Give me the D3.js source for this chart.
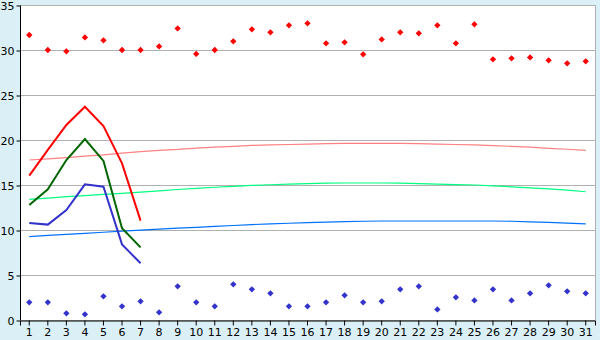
<!DOCTYPE html>
<head>
  <meta charset="utf-8">
  <title>temperature chart</title>
  <script src="https://cdn.jsdelivr.net/npm/d3@7"></script>
  <style>
    body{ margin:0; background:#daf0f6; }
    svg{ display:block; font-family:"DejaVu Sans", Verdana, sans-serif; }
  </style>
</head>
<body>
<div id="chart"></div>
<script>
const days = d3.range(1, 32);
const yTicks = [0, 5, 10, 15, 20, 25, 30, 35];

// daily max / min markers
const maxDots = [31.67, 30.0, 29.85, 31.4, 31.07, 30.0, 30.0, 30.4, 32.4, 29.56,
  30.0, 30.96, 32.3, 31.96, 32.74, 32.96, 30.74, 30.85, 29.52, 31.18, 31.96,
  31.85, 32.74, 30.74, 32.85, 28.96, 29.07, 29.18, 28.85, 28.52, 28.74];
const minDots = [1.96, 1.96, 0.74, 0.63, 2.63, 1.52, 2.07, 0.85, 3.74, 1.96,
  1.52, 3.96, 3.41, 2.96, 1.52, 1.52, 1.96, 2.74, 1.96, 2.07, 3.41,
  3.74, 1.18, 2.52, 2.18, 3.41, 2.18, 2.96, 3.85, 3.19, 2.96];

// observed (first 7 days)
const obsMax = [16.04, 18.9, 21.67, 23.7, 21.56, 17.4, 11.04];
const obsAvg = [12.78, 14.52, 17.78, 20.1, 17.67, 10.19, 8.07];
const obsMin = [10.78, 10.6, 12.22, 15.07, 14.81, 8.4, 6.3];

// normals
const normMax = [17.78, 17.9, 18.05, 18.2, 18.35, 18.55, 18.7, 18.85, 18.95, 19.1,
  19.2, 19.3, 19.4, 19.45, 19.5, 19.55, 19.6, 19.63, 19.63, 19.63, 19.63,
  19.6, 19.55, 19.5, 19.45, 19.38, 19.3, 19.2, 19.08, 18.97, 18.85];
const normAvg = [13.41, 13.55, 13.7, 13.83, 13.95, 14.07, 14.2, 14.35, 14.5, 14.62,
  14.75, 14.85, 14.95, 15.03, 15.1, 15.15, 15.2, 15.22, 15.22, 15.22, 15.2,
  15.15, 15.1, 15.05, 15.0, 14.9, 14.8, 14.68, 14.56, 14.42, 14.25];
const normMin = [9.26, 9.4, 9.52, 9.63, 9.75, 9.87, 9.98, 10.1, 10.2, 10.3,
  10.4, 10.5, 10.6, 10.68, 10.75, 10.82, 10.88, 10.93, 10.97, 11.0, 11.0,
  11.0, 11.0, 11.0, 11.0, 11.0, 10.97, 10.9, 10.85, 10.77, 10.67];

const width = 600, height = 340;
const margin = {top: 5, right: 5, bottom: 20, left: 20};

const svg = d3.select('#chart').append('svg')
  .attr('width', width).attr('height', height);

const x = d3.scaleBand()
  .domain(days)
  .range([margin.left, width - margin.right]);
const xc = d => x(d) + x.bandwidth() / 2;

const y = d3.scaleLinear()
  .domain([0, 35])
  .range([height - margin.bottom, margin.top]);

// plot area
svg.append('rect')
  .attr('x', margin.left).attr('y', margin.top)
  .attr('width', width - margin.right - margin.left)
  .attr('height', height - margin.bottom - margin.top)
  .attr('fill', '#fff')
  .attr('stroke', '#b0b0b0')
  .attr('shape-rendering', 'crispEdges');

// gridlines
svg.append('g').selectAll('line')
  .data(yTicks.slice(1))
  .enter().append('line')
  .attr('x1', margin.left).attr('x2', width - margin.right)
  .attr('y1', d => Math.round(y(d)) + 0.5).attr('y2', d => Math.round(y(d)) + 0.5)
  .attr('stroke', '#b0b0b0');

// axes
const yAxis = svg.append('g')
  .attr('transform', `translate(${margin.left + 0.5},0.5)`)
  .call(d3.axisLeft(y).tickValues(yTicks).tickSize(4).tickPadding(2));
const xAxis = svg.append('g')
  .attr('transform', `translate(0,${height - margin.bottom + 0.5})`)
  .call(d3.axisBottom(x).tickSize(5).tickPadding(3));
[yAxis, xAxis].forEach(g => {
  g.select('.domain').attr('stroke', '#000');
  g.selectAll('.tick line').attr('stroke', '#000');
  g.selectAll('text').attr('fill', '#000').style('font-size', '11px')
    .style('font-family', '"DejaVu Sans", Verdana, sans-serif');
});
yAxis.select('.domain').attr('d', `M0,${y(35)}V${y(0)}`);

// normals
const line = d3.line().x((d, i) => xc(days[i])).y(d => y(d));
[[normMax, '#ff8080'], [normAvg, '#00ff80'], [normMin, '#0070ff']].forEach(([s, c]) => {
  svg.append('path').datum(s)
    .attr('d', line)
    .attr('fill', 'none')
    .attr('stroke', c)
    .attr('stroke-width', 1.2);
});

// observed
[[obsMax, '#ff0000'], [obsAvg, '#006600'], [obsMin, '#3333cc']].forEach(([s, c]) => {
  svg.append('path').datum(s)
    .attr('d', line)
    .attr('fill', 'none')
    .attr('stroke', c)
    .attr('stroke-width', 2);
});

// markers: square turned 45deg, same width and height
const sym = d3.symbol(d3.symbolSquare).size(20);
[[maxDots, '#ff0000'], [minDots, '#3333cc']].forEach(([s, c]) => {
  svg.append('g').selectAll('path')
    .data(s)
    .enter().append('path')
    .attr('d', sym)
    .attr('transform', (d, i) => `translate(${xc(days[i])},${y(d)}) rotate(45)`)
    .attr('fill', c);
});
</script>
</body>
